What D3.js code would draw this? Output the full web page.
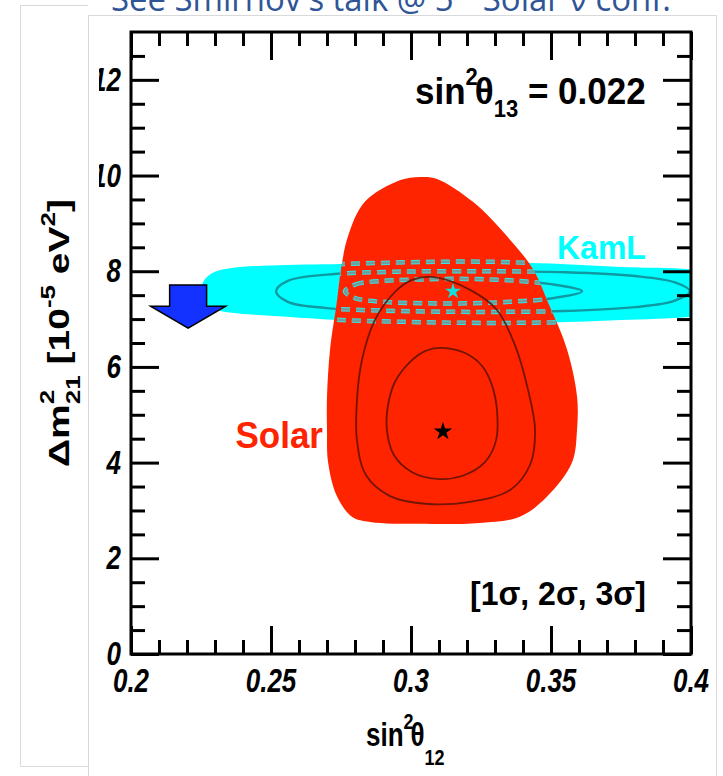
<!DOCTYPE html>
<html>
<head>
<meta charset="utf-8">
<script src="https://cdn.jsdelivr.net/npm/d3@7"></script>
<style>
  html, body { margin: 0; padding: 0; background: #fff; }
  svg { display: block; }
</style>
</head>
<body>
<svg id="chart" width="723" height="776"></svg>
<script>
// ---- axis setup ----
const xDomain = [0.2, 0.4];
const yDomain = [0, 13];
const xMajorTicks = [0.2, 0.25, 0.3, 0.35, 0.4];
const xTickLabels = ["0.2", "0.25", "0.3", "0.35", "0.4"];
const xMinorTicks = [0.21, 0.22, 0.23, 0.24, 0.26, 0.27, 0.28, 0.29, 0.31, 0.32, 0.33, 0.34, 0.36, 0.37, 0.38, 0.39];
const yMajorTicks = [0, 2, 4, 6, 8, 10, 12];
const yTickLabels = ["0", "2", "4", "6", "8", "10", "12"];
const yMinorTicks = [0.5, 1, 1.5, 2.5, 3, 3.5, 4.5, 5, 5.5, 6.5, 7, 7.5, 8.5, 9, 9.5, 10.5, 11, 11.5, 12.5];

// ---- solar allowed regions [sin^2 theta12, dm2_21 (1e-5 eV^2)] ----
const solar3sigma = [
  [0.3032, 9.97], [0.3093, 9.93], [0.3221, 9.45], [0.3343, 8.73], [0.3436, 8.04],
  [0.3489, 7.35], [0.3557, 6.37], [0.3593, 5.38], [0.3593, 4.69], [0.3575, 4.00],
  [0.3486, 3.29], [0.3389, 2.87], [0.3246, 2.74], [0.3032, 2.72], [0.2854, 2.76],
  [0.2789, 2.87], [0.2736, 3.29], [0.2704, 4.00], [0.2700, 4.69], [0.2700, 5.38],
  [0.2711, 6.37], [0.2735, 7.35], [0.2750, 8.04], [0.2775, 8.73], [0.2835, 9.45],
  [0.2960, 9.90]
];
const solar2sigma = [
  [0.3075, 7.88], [0.3211, 7.61], [0.3307, 7.19], [0.3371, 6.46], [0.3418, 5.52],
  [0.3443, 4.68], [0.3425, 3.95], [0.3354, 3.43], [0.3211, 3.18], [0.3050, 3.14],
  [0.2925, 3.30], [0.2839, 3.74], [0.2807, 4.47], [0.2807, 5.31], [0.2825, 6.15],
  [0.2871, 6.98], [0.2943, 7.57], [0.3004, 7.82]
];
const solar1sigma = [
  [0.3111, 6.40], [0.3193, 6.29], [0.3254, 6.02], [0.3289, 5.62], [0.3307, 5.10],
  [0.3304, 4.47], [0.3264, 4.01], [0.3182, 3.72], [0.3093, 3.66], [0.3004, 3.80],
  [0.2939, 4.16], [0.2914, 4.68], [0.2918, 5.20], [0.2943, 5.69], [0.2996, 6.10],
  [0.3050, 6.33]
];
const solarBest = [0.3114, 4.65];

// ---- KamLAND allowed regions ----
const kam3sigma = [
  [0.2250, 7.56], [0.2262, 7.82], [0.2300, 7.99], [0.2360, 8.07], [0.2500, 8.12],
  [0.2750, 8.15], [0.3000, 8.19], [0.3250, 8.20], [0.3500, 8.16], [0.3750, 8.09],
  [0.4000, 8.04], [0.4200, 7.86], [0.4280, 7.56], [0.4200, 7.22], [0.4000, 7.05],
  [0.3750, 6.98], [0.3500, 6.93], [0.3250, 6.92], [0.3000, 6.94], [0.2750, 6.98],
  [0.2500, 7.07], [0.2360, 7.13], [0.2300, 7.20], [0.2262, 7.34]
];
const kam2sigma = [
  [0.2518, 7.58], [0.2560, 7.80], [0.2700, 7.93], [0.2950, 7.99], [0.3250, 8.00],
  [0.3550, 7.98], [0.3800, 7.90], [0.3940, 7.77], [0.3996, 7.58], [0.3940, 7.38],
  [0.3800, 7.25], [0.3550, 7.17], [0.3250, 7.15], [0.2950, 7.17], [0.2700, 7.23],
  [0.2560, 7.36]
];
const kam1sigma = [
  [0.2764, 7.58], [0.2800, 7.72], [0.2900, 7.80], [0.3050, 7.83], [0.3200, 7.84],
  [0.3350, 7.81], [0.3500, 7.73], [0.3611, 7.58], [0.3500, 7.43], [0.3350, 7.36],
  [0.3200, 7.33], [0.3050, 7.33], [0.2900, 7.36], [0.2800, 7.44]
];
const kamBest = [0.3150, 7.58];

// ---- downward arrow (data units) ----
const arrowX = 0.2204, arrowTop = 7.71, arrowNeck = 7.27, arrowTip = 6.81;
const arrowShaftHalf = 0.0066, arrowHeadHalf = 0.0134;

// ---- layout ----
const plot = { left: 131, top: 32, right: 691, bottom: 654 };
const svg = d3.select("#chart");
const x = d3.scaleLinear().domain(xDomain).range([plot.left, plot.right]);
const y = d3.scaleLinear().domain(yDomain).range([plot.bottom, plot.top]);

const RED = "#ff2400", CYAN = "#00ffff", GREY = "#d9d9d9";
const TEXT_FONT = "'Liberation Sans', Arial, Helvetica, sans-serif";
const STRETCH = 1.25; // plot lettering is taller than it is wide

// page borders
const border = svg.append("g").attr("stroke", GREY).attr("stroke-width", 1).attr("fill", "none");
border.append("path").attr("d", "M88,766.5H20.5V5.5H88");
border.append("path").attr("d", "M88.5,776V15.5H716.5V776");

// slide note (mostly off the top edge)
const note = svg.append("text")
  .attr("x", 111).attr("y", 11)
  .attr("font-family", "'Open Sans', 'Noto Sans', sans-serif")
  .attr("font-size", 34)
  .attr("fill", "#2f5597")
  .attr("textLength", 560)
  .attr("lengthAdjust", "spacingAndGlyphs");
note.append("tspan").text("See Smirnov's talk @ 5");
note.append("tspan").attr("font-size", 22).attr("dy", -14).text("th");
note.append("tspan").attr("dy", 14).text(" Solar \u03bd conf.");

// clip paths
const defs = svg.append("defs");
defs.append("clipPath").attr("id", "frameClip")
  .append("rect").attr("x", plot.left).attr("y", plot.top)
  .attr("width", plot.right - plot.left).attr("height", plot.bottom - plot.top);
defs.append("clipPath").attr("id", "labelClip")
  .append("rect").attr("x", 99).attr("y", 0).attr("width", 640).attr("height", 776);

const contour = d3.line()
  .x(d => x(d[0])).y(d => y(d[1]))
  .curve(d3.curveCatmullRomClosed.alpha(0.5));

defs.append("clipPath").attr("id", "solarClip")
  .append("path").attr("d", contour(solar3sigma));

const outsideSolar = defs.append("mask").attr("id", "outsideSolar");
outsideSolar.append("rect").attr("x", 0).attr("y", 0).attr("width", 723).attr("height", 776).attr("fill", "#fff");
outsideSolar.append("path").attr("d", contour(solar3sigma)).attr("fill", "#000");

const regions = svg.append("g").attr("clip-path", "url(#frameClip)");

// KamLAND 3 sigma band
regions.append("path").attr("d", contour(kam3sigma)).attr("fill", CYAN);

// Solar 3 sigma region
regions.append("path").attr("d", contour(solar3sigma)).attr("fill", RED);

// KamLAND 1/2 sigma contours outside the solar region
const kamSolid = regions.append("g").attr("mask", "url(#outsideSolar)");
[kam2sigma, kam1sigma].forEach(c => {
  kamSolid.append("path").attr("d", contour(c))
    .attr("fill", "none").attr("stroke", "#0e9aa0").attr("stroke-width", 2.4);
});

// KamLAND contours seen through the solar region (dashed)
const kamDashed = regions.append("g").attr("clip-path", "url(#solarClip)");
[kam3sigma, kam2sigma, kam1sigma].forEach(c => {
  kamDashed.append("path").attr("d", contour(c))
    .attr("fill", "none").attr("stroke", "#39e3e3").attr("stroke-width", 4.5)
    .attr("stroke-dasharray", "9,6");
  kamDashed.append("path").attr("d", contour(c))
    .attr("fill", "none").attr("stroke", "#6f9c9c").attr("stroke-width", 2.5)
    .attr("stroke-dasharray", "9,6");
});

// Solar 1/2 sigma contours
[solar2sigma, solar1sigma].forEach(c => {
  regions.append("path").attr("d", contour(c))
    .attr("fill", "none").attr("stroke", "#5a1200").attr("stroke-width", 1.8)
    .attr("stroke-opacity", 0.85);
});

// best-fit stars
const star = d3.symbol().type(d3.symbolStar);
regions.append("path")
  .attr("d", star.size(105)())
  .attr("transform", `translate(${x(solarBest[0])},${y(solarBest[1])})`)
  .attr("fill", "#000");
regions.append("path")
  .attr("d", star.size(80)())
  .attr("transform", `translate(${x(kamBest[0])},${y(kamBest[1])})`)
  .attr("fill", "#10e0e0");

// arrow
const arrowPts = [
  [arrowX - arrowShaftHalf, arrowTop], [arrowX + arrowShaftHalf, arrowTop],
  [arrowX + arrowShaftHalf, arrowNeck], [arrowX + arrowHeadHalf, arrowNeck],
  [arrowX, arrowTip], [arrowX - arrowHeadHalf, arrowNeck],
  [arrowX - arrowShaftHalf, arrowNeck]
];
svg.append("path")
  .attr("d", d3.line().x(d => x(d[0])).y(d => y(d[1])).curve(d3.curveLinearClosed)(arrowPts))
  .attr("fill", "#1432ff").attr("stroke", "#000").attr("stroke-width", 1.5)
  .attr("stroke-linejoin", "miter");

// ---- axes (ticks point inward on all four sides) ----
const TICK_MAJOR = 28, TICK_MINOR = 14;
function styleAxis(g) {
  g.select(".domain").remove();
  g.selectAll(".tick text").remove();
  g.selectAll(".tick line").attr("stroke", "#000").attr("stroke-width", 3);
}
const axisDefs = [
  [d3.axisBottom(x), xMinorTicks, xMajorTicks, `translate(0,${plot.bottom})`],
  [d3.axisTop(x), xMinorTicks, xMajorTicks, `translate(0,${plot.top})`],
  [d3.axisLeft(y), yMinorTicks, yMajorTicks, `translate(${plot.left},0)`],
  [d3.axisRight(y), yMinorTicks, yMajorTicks, `translate(${plot.right},0)`]
];
axisDefs.forEach(([axis, minor, major, tr]) => {
  svg.append("g").attr("transform", tr)
    .call(axis.tickValues(minor).tickSize(-TICK_MINOR)).call(styleAxis);
  svg.append("g").attr("transform", tr)
    .call(axis.tickValues(major).tickSize(-TICK_MAJOR)).call(styleAxis);
});

// tick labels
function stretchedText(parent, px, py, size, s, opts = {}) {
  return parent.append("g")
    .attr("transform", `translate(${px},${py}) scale(1,${s})`)
    .append("text")
    .attr("font-family", TEXT_FONT).attr("font-size", size)
    .attr("font-weight", opts.weight || "bold")
    .attr("font-style", opts.style || "normal")
    .attr("fill", opts.fill || "#000")
    .attr("text-anchor", opts.anchor || "start");
}
const xLabels = svg.append("g");
xMajorTicks.forEach((d, i) => {
  stretchedText(xLabels, x(d), 692, 26, STRETCH, { style: "italic", anchor: "middle" })
    .text(xTickLabels[i]);
});
const yLabels = svg.append("g").attr("clip-path", "url(#labelClip)");
yMajorTicks.forEach((d, i) => {
  stretchedText(yLabels, 121, y(d) + 11, 26, STRETCH, { style: "italic", anchor: "end" })
    .text(yTickLabels[i]);
});

// frame
svg.append("rect")
  .attr("x", plot.left).attr("y", plot.top)
  .attr("width", plot.right - plot.left).attr("height", plot.bottom - plot.top)
  .attr("fill", "none").attr("stroke", "#000").attr("stroke-width", 3);

// ---- titles and annotations ----
// x title
const xt = stretchedText(svg, 366, 746, 26, STRETCH);
xt.append("tspan").text("sin");
xt.append("tspan").attr("font-size", 18).attr("dy", -14).text("2");
xt.append("tspan").attr("dy", 14).attr("dx", -3).text("\u03b8");
xt.append("tspan").attr("font-size", 18).attr("dy", 15).text("12");

// y title (rotated, stretched along its length)
const yt = svg.append("g")
  .attr("transform", `translate(69,333) scale(1,1.3) rotate(-90)`)
  .append("text")
  .attr("font-family", TEXT_FONT).attr("font-size", 30)
  .attr("font-weight", "bold").attr("text-anchor", "middle");
yt.append("tspan").text("\u0394m");
yt.append("tspan").attr("font-size", 20).attr("dy", -15).text("2");
yt.append("tspan").attr("font-size", 20).attr("dx", -11).attr("dy", 26).text("21");
yt.append("tspan").attr("dy", -11).text(" [10");
yt.append("tspan").attr("font-size", 20).attr("dy", -14).text("-5");
yt.append("tspan").attr("dy", 14).text(" eV");
yt.append("tspan").attr("font-size", 20).attr("dy", -14).text("2");
yt.append("tspan").attr("dy", 14).text("]");

// theta13 note
const t13 = stretchedText(svg, 415, 104, 35, 1.05);
t13.append("tspan").text("sin");
t13.append("tspan").attr("font-size", 22).attr("dy", -18).text("2");
t13.append("tspan").attr("dy", 18).attr("dx", -3).text("\u03b8");
t13.append("tspan").attr("font-size", 22).attr("dy", 12).text("13");
t13.append("tspan").attr("dy", -12).text(" = 0.022");

// confidence levels
stretchedText(svg, 470, 605, 32, 1.05).text("[1\u03c3, 2\u03c3, 3\u03c3]");

// region labels
stretchedText(svg, 323, 448, 35, 1.05, { fill: RED, anchor: "end" }).text("Solar");
stretchedText(svg, 557, 259, 32, 1.05, { fill: CYAN }).text("KamL");
</script>
</body>
</html>
